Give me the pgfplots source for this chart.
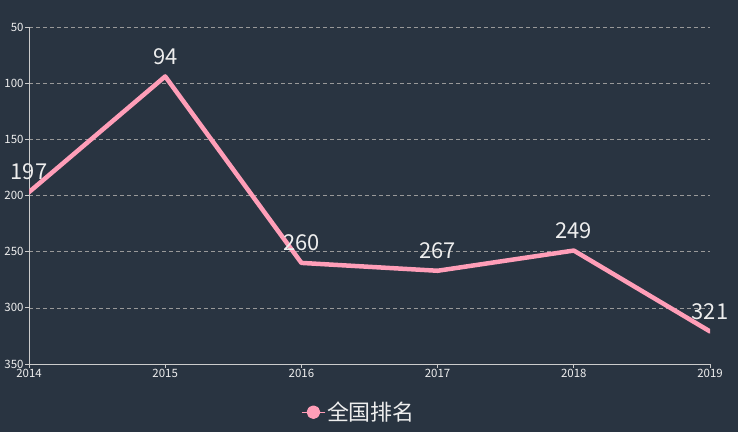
\documentclass[border=0pt]{standalone}
\usepackage{pgfplots}
\pgfplotsset{compat=1.18}
\usepackage{fontspec}
\setmainfont{Noto Sans CJK SC}
\definecolor{bg}{HTML}{293441}
\definecolor{pinkline}{HTML}{FF9EB8}
\definecolor{txt}{HTML}{EEEEEE}
\definecolor{axc}{HTML}{CCCCCC}
\begin{document}
\begin{tikzpicture}
\fill[bg] (0,0) rectangle (738bp,432bp);
\useasboundingbox (0,0) rectangle (738bp,432bp);
\begin{axis}[
  at={(29bp,68bp)}, anchor=south west,
  scale only axis, width=681bp, height=337bp,
  xmin=2014, xmax=2019, ymin=50, ymax=350,
  y dir=reverse,
  xtick={2014,2015,2016,2017,2018,2019},
  ytick={50,100,150,200,250,300,350},
  axis x line*=bottom, axis y line*=left,
  axis line style={axc, line width=0.8bp, -},
  tick style={axc, line width=0.8bp},
  tick align=outside, major tick length=4bp,
  ymajorgrids, grid style={dash pattern=on 4bp off 3bp, gray!80, line width=0.6bp},
  x tick label style={font=\fontsize{11.5}{13}\selectfont, text=txt, /pgf/number format/1000 sep={}},
  y tick label style={font=\fontsize{11.5}{13}\selectfont, text=txt},
  /pgf/number format/assume math mode=true,
  xticklabel style={yshift=2bp},
  yticklabel style={xshift=2bp},
  nodes near coords,
  every node near coord/.style={anchor=center, yshift=20bp, font=\fontsize{22}{24}\selectfont, text=txt},
  legend style={at={(0.485,-0.143)}, anchor=center, draw=none, fill=none, text=txt, font=\fontsize{22}{24}\selectfont},
  legend image code/.code={\draw[line width=1.2bp, pinkline] (-6bp,0bp) -- (16bp,0bp); \fill[pinkline] (5bp,0bp) circle (4.5bp);},
]
\addplot[pinkline, line width=4.5bp, line join=round, line cap=round] coordinates {
(2014,197) (2015,94) (2016,260) (2017,267) (2018,249) (2019,321)
};
\addlegendentry{全国排名}
\end{axis}
\end{tikzpicture}
\end{document}
